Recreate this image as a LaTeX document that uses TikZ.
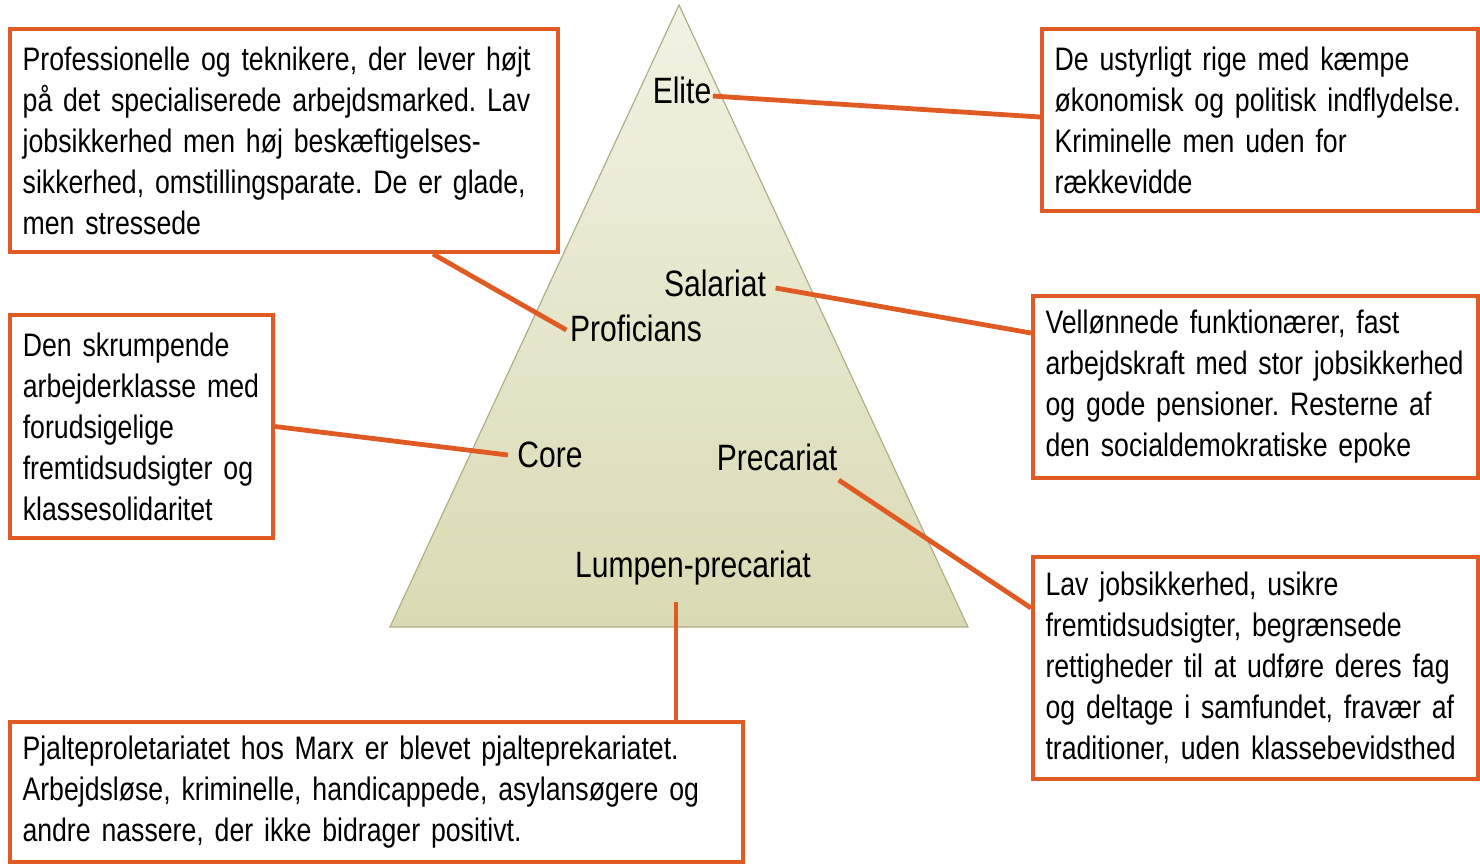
\documentclass[tikz,border=0pt]{standalone}
\usepackage{fontspec}
\setmainfont{Liberation Sans}[FakeStretch=0.82]
\frenchspacing
\usetikzlibrary{calc}
\definecolor{orng}{RGB}{224,90,36}
\definecolor{triTop}{RGB}{242,242,228}
\definecolor{triBot}{RGB}{218,218,180}
\definecolor{triEdge}{RGB}{175,175,135}
\newcommand{\myboxfont}{\fontsize{24.4pt}{30.75pt}\selectfont\frenchspacing\spaceskip=0.2em plus 0.05em\relax}
\tikzset{
  box/.style={draw=orng, line width=3pt, fill=white, inner xsep=9pt, inner ysep=4pt,
    align=left, font=\myboxfont},
  lvl/.style={inner sep=1pt, font=\fontsize{27.5pt}{33pt}\selectfont},
  conn/.style={draw=orng, line width=3.6pt}
}
\begin{document}
\begin{tikzpicture}[x=0.75pt,y=-0.75pt]
\useasboundingbox (0,0) rectangle (1480,865);
% pyramid
\shade[top color=triTop, bottom color=triBot, draw=triEdge, line width=0.9pt]
  (679,5) -- (968,627) -- (390,627) -- cycle;
% level labels
\node[lvl] (elite) at (682,90) {Elite};
\node[lvl] (sal) at (715,283) {Salariat};
\node[lvl] (prof) at (636,328) {Proficians};
\node[lvl] (core) at (550,455) {Core};
\node[lvl] (prec) at (777,457) {Precariat};
\node[lvl] (lump) at (693,568) {Lumpen-precariat};
% boxes
\node[box, minimum width=411pt, minimum height=167.25pt, text width=392pt] (tl) at (284,140.5)
  {Professionelle og teknikere, der lever højt\\på det specialiserede arbejdsmarked. Lav\\jobsikkerhed men høj beskæftigelses-\\sikkerhed, omstillingsparate. De er glade,\\men stressede};
\node[box, minimum width=327pt, minimum height=136.5pt, text width=308pt] (tr) at (1260,120)
  {De ustyrligt rige med kæmpe\\økonomisk og politisk indflydelse.\\Kriminelle men uden for\\rækkevidde};
\node[box, minimum width=197.25pt, minimum height=167.25pt, text width=178pt] (lm) at (141.5,426.5)
  {Den skrumpende\\arbejderklasse med\\forudsigelige\\fremtidsudsigter og\\klassesolidaritet};
\node[box, minimum width=333.75pt, minimum height=136.5pt, text width=315pt] (rm) at (1255.5,387)
  {Vellønnede funktionærer, fast\\arbejdskraft med stor jobsikkerhed\\og gode pensioner. Resterne af\\den socialdemokratiske epoke};
\node[box, minimum width=333.75pt, minimum height=166.5pt, text width=315pt] (rb) at (1255.5,668)
  {Lav jobsikkerhed, usikre\\fremtidsudsigter, begrænsede\\rettigheder til at udføre deres fag\\og deltage i samfundet, fravær af\\traditioner, uden klassebevidsthed};
\node[box, minimum width=549.75pt, minimum height=105pt, text width=531pt] (bt) at (376.5,792)
  {Pjalteproletariatet hos Marx er blevet pjalteprekariatet.\\Arbejdsløse, kriminelle, handicappede, asylansøgere og\\andre nassere, der ikke bidrager positivt.};
% connectors
\coordinate (lumpTop) at ($(lump.south)+(-17,15)$);
\coordinate (btTop) at ($(bt.north west)+(666,0)$);
\draw[conn] ($(elite.east)+(0,6)$) -- ($(tr.north west)+(0,90)$);
\draw[conn] ($(tl.south west)!0.77!(tl.south east)$) -- ($(prof.west)+(-2,2)$);
\draw[conn] ($(sal.east)+(8,5)$) -- ($(rm.north west)+(0,39)$);
\draw[conn] (lm.east) -- ($(core.west)+(-8,0)$);
\draw[conn] ($(prec.south east)+(0,8)$) -- ($(rb.north west)+(0,53)$);
\draw[conn] (lumpTop) -- (lumpTop |- btTop);
\end{tikzpicture}
\end{document}
